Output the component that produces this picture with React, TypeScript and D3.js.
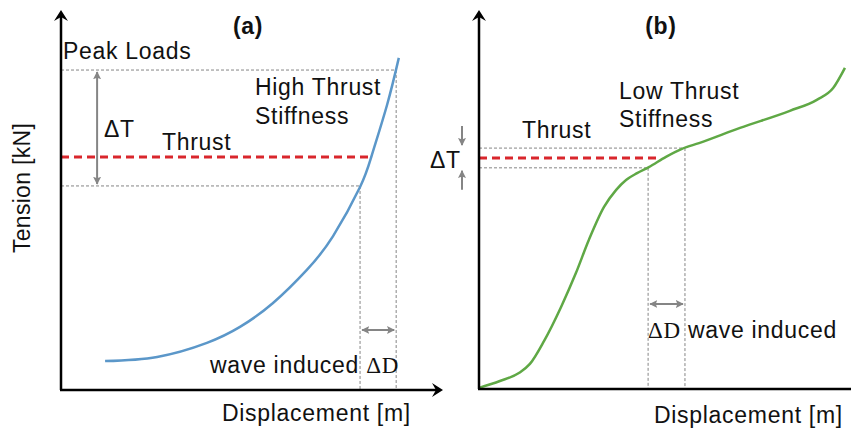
import React from 'react';
import * as d3 from 'd3';

const W = 851;
const H = 434;

// Panel (a): high thrust stiffness curve (displacement, tension in arbitrary units 0-100)
const blueDisp = [11.6, 25.3, 38.4, 47.1, 55.8, 64.7, 71.6, 78.7, 81.8, 85.8, 88.9];
const blueTension = [7.6, 8.7, 12.4, 16.6, 22.9, 31.6, 40.5, 53.4, 61.8, 75.0, 87.4];
const aLevels = { peak: 84.2, thrust: 61.3, low: 53.7 };
const aDisp = { low: 78.7, high: 88.2, thrustEnd: 81.8 };

// Panel (b): low thrust stiffness curve
const greenDisp = [0, 5.5, 10.5, 13.4, 17.1, 21.6, 25.5, 28.9, 32.9, 36.1, 38.7, 41.6, 44.7, 49.2, 53.4, 57.9, 68.7, 81.8, 88.9, 93.2, 96.3];
const greenTension = [0.3, 2.1, 4.2, 6.6, 12.6, 21.6, 30.5, 39.2, 47.9, 52.4, 55.0, 56.8, 58.4, 61.1, 63.2, 64.7, 68.7, 73.2, 76.1, 79.2, 84.5];
const bLevels = { upper: 63.4, thrust: 60.8, lower: 58.2 };
const bDisp = { low: 44.5, high: 54.2, thrustEnd: 47.6 };

const FONT = "'Liberation Sans', Arial, sans-serif";
const SERIF = "'Liberation Serif', 'Times New Roman', serif";
const FS = 23;
const GREY = '#858585';

const xa = d3.scaleLinear().domain([0, 100]).range([61, 441]);
const ya = d3.scaleLinear().domain([0, 100]).range([390, 10]);
const xb = d3.scaleLinear().domain([0, 100]).range([479, 859]);
const yb = d3.scaleLinear().domain([0, 100]).range([389, 9]);

function curvePath(xs: number[], ys: number[], sx: any, sy: any, curve: any) {
  const pts = xs.map((x, i) => [x, ys[i]] as [number, number]);
  return d3.line<[number, number]>().x(d => sx(d[0])).y(d => sy(d[1])).curve(curve)(pts) || '';
}

function AxisArrowUp({ x, y }: { x: number; y: number }) {
  return <path d={`M${x},${y} L${x - 7},${y + 11} L${x},${y + 7} L${x + 7},${y + 11} Z`} fill="#000" />;
}
function AxisArrowRight({ x, y }: { x: number; y: number }) {
  return <path d={`M${x},${y} L${x - 11},${y - 7} L${x - 7},${y} L${x - 11},${y + 7} Z`} fill="#000" />;
}

function Dashed({ x1, y1, x2, y2 }: any) {
  return <line x1={x1} y1={y1} x2={x2} y2={y2} stroke={GREY} strokeWidth={1} strokeDasharray="3,2" />;
}

export default function App() {
  const txt = { fontFamily: FONT, fontSize: FS, fill: '#111', letterSpacing: 0.7 } as any;
  return (
    <svg width={W} height={H} style={{ position: 'fixed', left: 0, top: 0, background: '#fff' }}>
      <defs>
        <marker id="gh" viewBox="0 0 10 10" refX="9" refY="5" markerWidth="4" markerHeight="4" orient="auto-start-reverse" markerUnits="strokeWidth">
          <path d="M0,0 L10,5 L0,10 L2,5 Z" fill={GREY} />
        </marker>
      </defs>
      <rect width={W} height={H} fill="#fff" />

      {/* ---------- Panel (a) ---------- */}
      <Dashed x1={xa(0)} y1={ya(aLevels.peak)} x2={xa(aDisp.high)} y2={ya(aLevels.peak)} />
      <Dashed x1={xa(0)} y1={ya(aLevels.low)} x2={xa(aDisp.low)} y2={ya(aLevels.low)} />
      <Dashed x1={xa(aDisp.low)} y1={ya(aLevels.low)} x2={xa(aDisp.low)} y2={ya(0)} />
      <Dashed x1={xa(aDisp.high)} y1={ya(aLevels.peak)} x2={xa(aDisp.high)} y2={ya(0)} />
      <line x1={xa(0)} y1={ya(aLevels.thrust)} x2={xa(aDisp.thrustEnd)} y2={ya(aLevels.thrust)} stroke="#d9262c" strokeWidth={3} strokeDasharray="8,5" />
      <path d={curvePath(blueDisp, blueTension, xa, ya, d3.curveNatural)} fill="none" stroke="#5b97c9" strokeWidth={2.5} />
      <line x1={xa(9.5)} y1={ya(aLevels.peak) + 2} x2={xa(9.5)} y2={ya(aLevels.low) - 2} stroke={GREY} strokeWidth={2} markerStart="url(#gh)" markerEnd="url(#gh)" />
      <line x1={xa(aDisp.low) + 2} y1={330} x2={xa(aDisp.high) - 2} y2={330} stroke={GREY} strokeWidth={2} markerStart="url(#gh)" markerEnd="url(#gh)" />
      <line x1={xa(0)} y1={ya(0)} x2={xa(0)} y2={14} stroke="#000" strokeWidth={2.5} />
      <AxisArrowUp x={xa(0)} y={10} />
      <line x1={xa(0) - 1} y1={ya(0)} x2={439} y2={ya(0)} stroke="#000" strokeWidth={2.5} />
      <AxisArrowRight x={443} y={ya(0)} />
      <text x={248} y={34} textAnchor="middle" {...txt} fontWeight="bold">(a)</text>
      <text x={63} y={59} {...txt}>Peak Loads</text>
      <text x={104} y={137} {...txt}>ΔT</text>
      <text x={162} y={150} {...txt}>Thrust</text>
      <text x={255} y={95} {...txt}>High Thrust</text>
      <text x={255} y={124} {...txt}>Stiffness</text>
      <text x={210} y={373} {...txt}>wave induced <tspan fontFamily={SERIF}>ΔD</tspan></text>
      <text x={222} y={421} {...txt}>Displacement [m]</text>
      <text transform={`translate(30,188) rotate(-90)`} textAnchor="middle" {...txt} letterSpacing={0.3}>Tension [kN]</text>

      {/* ---------- Panel (b) ---------- */}
      <Dashed x1={xb(0)} y1={yb(bLevels.upper)} x2={xb(bDisp.high)} y2={yb(bLevels.upper)} />
      <Dashed x1={xb(0)} y1={yb(bLevels.lower)} x2={xb(bDisp.low)} y2={yb(bLevels.lower)} />
      <Dashed x1={xb(bDisp.low)} y1={yb(bLevels.lower)} x2={xb(bDisp.low)} y2={yb(0)} />
      <Dashed x1={xb(bDisp.high)} y1={yb(bLevels.upper)} x2={xb(bDisp.high)} y2={yb(0)} />
      <line x1={xb(0)} y1={yb(bLevels.thrust)} x2={xb(bDisp.thrustEnd)} y2={yb(bLevels.thrust)} stroke="#d9262c" strokeWidth={3} strokeDasharray="8,5" />
      <path d={curvePath(greenDisp, greenTension, xb, yb, d3.curveMonotoneX)} fill="none" stroke="#5fa845" strokeWidth={2.5} />
      <line x1={462} y1={yb(bLevels.upper) - 22} x2={462} y2={yb(bLevels.upper) - 3} stroke={GREY} strokeWidth={2} markerEnd="url(#gh)" />
      <line x1={462} y1={yb(bLevels.lower) + 22} x2={462} y2={yb(bLevels.lower) + 3} stroke={GREY} strokeWidth={2} markerEnd="url(#gh)" />
      <line x1={xb(bDisp.low) + 2} y1={304} x2={xb(bDisp.high) - 2} y2={304} stroke={GREY} strokeWidth={2} markerStart="url(#gh)" markerEnd="url(#gh)" />
      <line x1={xb(0)} y1={yb(0)} x2={xb(0)} y2={14} stroke="#000" strokeWidth={2.5} />
      <AxisArrowUp x={xb(0)} y={10} />
      <line x1={xb(0) - 1} y1={yb(0)} x2={851} y2={yb(0)} stroke="#000" strokeWidth={2.5} />
      <text x={661} y={34} textAnchor="middle" {...txt} fontWeight="bold">(b)</text>
      <text x={430} y={168} {...txt}>ΔT</text>
      <text x={522} y={138} {...txt}>Thrust</text>
      <text x={619} y={99} {...txt}>Low Thrust</text>
      <text x={619} y={127} {...txt}>Stiffness</text>
      <text x={648} y={338} {...txt}><tspan fontFamily={SERIF}>ΔD</tspan> wave induced</text>
      <text x={654} y={423} {...txt}>Displacement [m]</text>
    </svg>
  );
}
